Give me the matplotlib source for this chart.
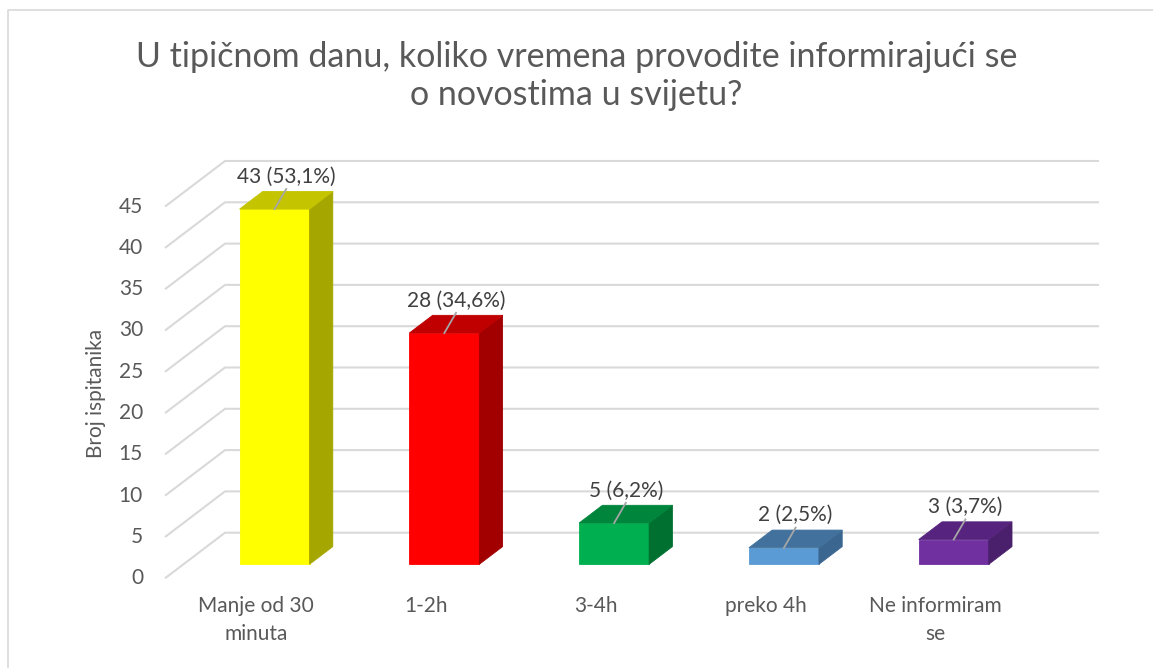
"""3D-style bar chart: time spent following world news per day."""
import matplotlib
matplotlib.use("Agg")
import matplotlib.pyplot as plt
from matplotlib.patches import Polygon

plt.rcParams["font.family"] = ["Lato", "DejaVu Sans"]

# Data
categories = ["Manje od 30\nminuta", "1-2h", "3-4h", "preko 4h", "Ne informiram\nse"]
counts = [43, 28, 5, 2, 3]
labels = ["43 (53,1%)", "28 (34,6%)", "5 (6,2%)", "2 (2,5%)", "3 (3,7%)"]
yticks = [0, 5, 10, 15, 20, 25, 30, 35, 40, 45]
title = "U tipičnom danu, koliko vremena provodite informirajući se\no novostima u svijetu?"
ylabel = "Broj ispitanika"

# face colours: front, top, side
front_c = ["#FFFF00", "#FF0000", "#00B050", "#5B9BD5", "#7030A0"]
top_c = ["#C4C400", "#C00000", "#00853C", "#41719C", "#56247E"]
side_c = ["#A6A600", "#A20000", "#007030", "#3A6690", "#4A1F6C"]

W, H = 1153, 668
fig = plt.figure(figsize=(W / 100, H / 100), dpi=100)
ax = fig.add_axes([0, 0, 1, 1])
ax.set_axis_off()

# pixel mapping of the oblique projection (category / value units)
x0_px, xstep = 256.1, 169.8
y0_px, ystep = 578.3, 41.3 / 5
ax.set_xlim(-x0_px / xstep, (W - x0_px) / xstep)
ax.set_ylim((y0_px - H) / ystep, y0_px / ystep)

DX = 60 / xstep       # depth offset, x
DY = 45.6 / ystep     # depth offset, y
t0, t1 = 0.307, 0.695  # bar front/back depth
bw = 70 / xstep
left = (165 - x0_px) / xstep
right = (1099 - x0_px) / xstep

grid_c = "#D9D9D9"
for v in yticks:
    ax.plot([left, left + DX, right], [v, v + DY, v + DY], color=grid_c, lw=1.5,
            solid_capstyle="butt", zorder=1)
    ax.text(left - 22 / xstep, v, str(v), ha="right", va="center",
            fontsize=15, color="#595959")

for i, (v, lab) in enumerate(zip(counts, labels)):
    xl = i + t0 * DX - bw / 2
    xr = xl + bw
    yb = t0 * DY
    yt = v + t0 * DY
    ddx, ddy = (t1 - t0) * DX, (t1 - t0) * DY
    ax.add_patch(Polygon([(xl, yb), (xr, yb), (xr, yt), (xl, yt)],
                         fc=front_c[i], ec=front_c[i], lw=0.6, zorder=3))
    ax.add_patch(Polygon([(xr, yb), (xr + ddx, yb + ddy), (xr + ddx, yt + ddy), (xr, yt)],
                         fc=side_c[i], ec=side_c[i], lw=0.6, zorder=3))
    ax.add_patch(Polygon([(xl, yt), (xr, yt), (xr + ddx, yt + ddy), (xl + ddx, yt + ddy)],
                         fc=top_c[i], ec=top_c[i], lw=0.6, zorder=3))
    cx = i + t0 * DX
    ax.plot([cx, cx + 11.7 / xstep], [yt, yt + ddy + 0.3], color="#A6A6A6",
            lw=1.3, zorder=4)
    ax.text(i + (t0 + t1) / 2 * DX, v + t1 * DY + 1.8, lab, ha="center",
            va="center", fontsize=15, color="#404040", zorder=5)
    ax.text(i, -2.2, categories[i], ha="center", va="top", fontsize=15,
            color="#595959", linespacing=1.45)

ax.text((96 - x0_px) / xstep, (y0_px - 393) / ystep, ylabel, rotation=90,
        ha="center", va="center", fontsize=15, color="#595959")

fig.text(0.5, 1 - 76 / H, title, ha="center", va="center", fontsize=24.5,
         color="#595959", linespacing=1.25)

# outer chart border
fig.add_artist(plt.Line2D([8 / W, 8 / W, 1], [0, 1 - 10 / H, 1 - 10 / H],
                          transform=fig.transFigure, color="#D9D9D9", lw=1.2))

fig.savefig("out.png", dpi=100)
